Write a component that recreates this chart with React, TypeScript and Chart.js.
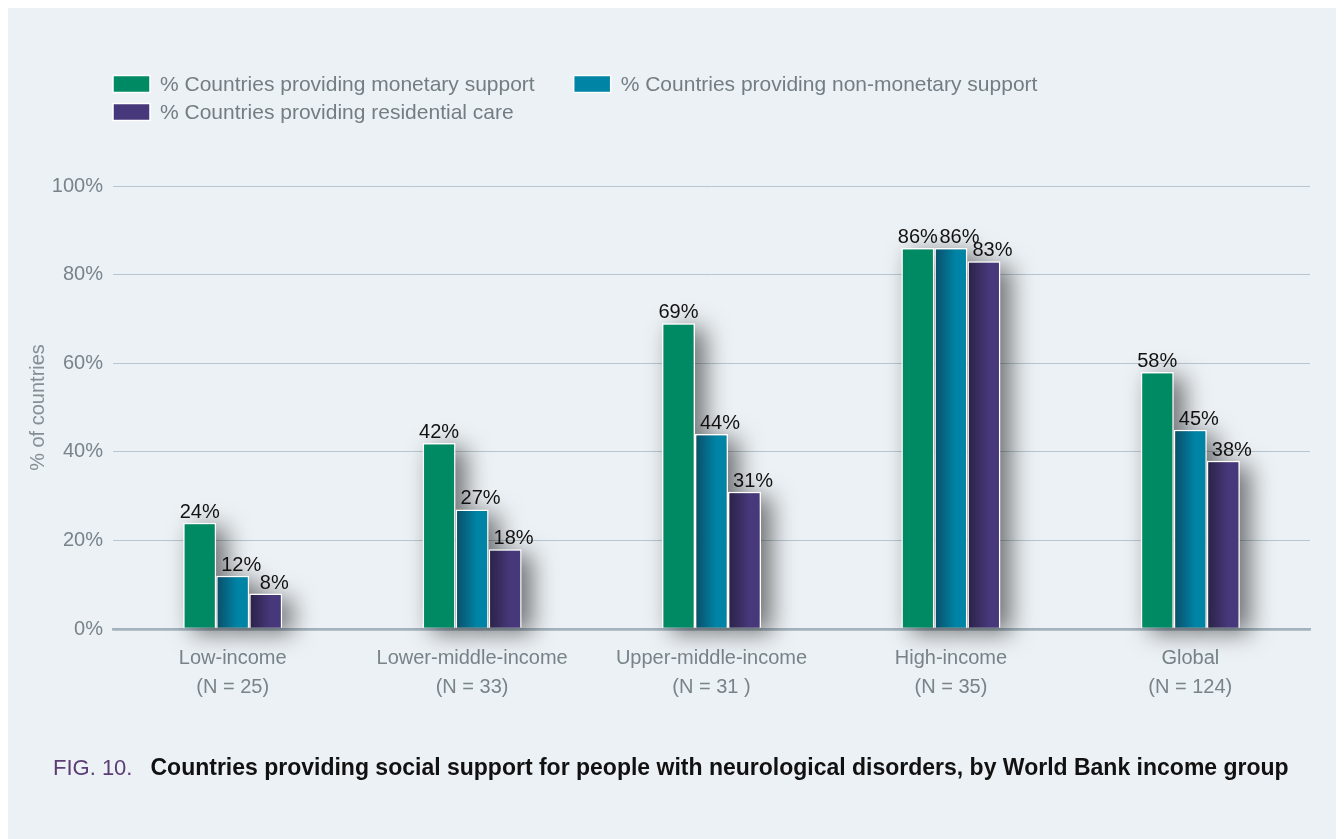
import React, { useEffect, useRef } from 'react';
import { Chart, registerables } from 'chart.js';

Chart.register(...registerables);

// ---- Data ----
const categories: string[][] = [
  ['Low-income', '(N = 25)'],
  ['Lower-middle-income', '(N = 33)'],
  ['Upper-middle-income', '(N = 31 )'],
  ['High-income', '(N = 35)'],
  ['Global', '(N = 124)'],
];
const seriesNames = [
  '% Countries providing monetary support',
  '% Countries providing non-monetary support',
  '% Countries providing residential care',
];
const monetary = [24, 42, 69, 86, 58];
const nonMonetary = [12, 27, 44, 86, 45];
const residential = [8, 18, 31, 83, 38];
const yTicks = [0, 20, 40, 60, 80, 100];
const yAxisTitle = '% of countries';
const figLabel = 'FIG. 10.';
const figTitle = 'Countries providing social support for people with neurological disorders, by World Bank income group';

// ---- Styles ----
const colors = ['#008a64', '#0084a6', '#46387a'];
const darkColors = ['#008a64', '#0a4d67', '#2a2246'];
const SANS = '"Liberation Sans", Arial, sans-serif';
const CAT_PCT = 0.414;
const BG = '#ecf1f5';
const LABEL_SHIFT = [0, 8.5, 8.5];

function gradientFill(di: number) {
  return (c: any) => {
    const chart = c.chart;
    const xs = chart.scales && chart.scales.x;
    if (di === 0 || !xs || c.type !== 'data' || !isFinite(xs.left)) return colors[di];
    const n = categories.length;
    const cw = (xs.right - xs.left) / n;
    const bw = (cw * CAT_PCT) / 3;
    const center = xs.getPixelForValue(c.dataIndex);
    const left = center - 1.5 * bw + di * bw;
    const g = chart.ctx.createLinearGradient(left, 0, left + bw, 0);
    g.addColorStop(0, darkColors[di]);
    g.addColorStop(0.65, colors[di]);
    g.addColorStop(1, colors[di]);
    return g;
  };
}

const decorPlugin = {
  id: 'decor',
  beforeDatasetsDraw(chart: any) {
    const ctx = chart.ctx;
    ctx.save();
    ctx.shadowColor = 'rgba(0,0,0,0.55)';
    ctx.shadowBlur = 24;
    ctx.shadowOffsetX = 10000 + 10;
    ctx.shadowOffsetY = 5;
    ctx.fillStyle = '#000';
    chart.data.datasets.forEach((_ds: any, di: number) => {
      const meta = chart.getDatasetMeta(di);
      meta.data.forEach((bar: any) => {
        const { x, y, base, width } = bar.getProps(['x', 'y', 'base', 'width'], true);
        ctx.fillRect(x - width / 2 - 10000, y, width, base - y);
      });
    });
    ctx.restore();
  },
  afterDatasetsDraw(chart: any) {
    const ctx = chart.ctx;
    ctx.save();
    ctx.fillStyle = '#111';
    ctx.font = `20px ${SANS}`;
    ctx.textAlign = 'center';
    ctx.textBaseline = 'alphabetic';
    chart.data.datasets.forEach((ds: any, di: number) => {
      const meta = chart.getDatasetMeta(di);
      meta.data.forEach((bar: any, i: number) => {
        ctx.fillText(`${ds.data[i]}%`, bar.x + LABEL_SHIFT[di], bar.y - 5);
      });
    });
    ctx.restore();
  },
  afterDraw(chart: any) {
    const ctx = chart.ctx;
    const left = chart.chartArea.left;
    ctx.save();
    // legend
    ctx.font = `21px ${SANS}`;
    ctx.textBaseline = 'middle';
    ctx.textAlign = 'left';
    const boxW = 37;
    const boxH = 17;
    const rows = [76, 104];
    const drawItem = (di: number, x: number, y: number) => {
      ctx.fillStyle = colors[di];
      ctx.fillRect(x, y - boxH / 2, boxW, boxH);
      ctx.strokeStyle = '#ffffff';
      ctx.lineWidth = 1.5;
      ctx.strokeRect(x, y - boxH / 2, boxW, boxH);
      ctx.fillStyle = '#737d83';
      ctx.fillText(seriesNames[di], x + boxW + 10, y + 1);
      return x + boxW + 10 + ctx.measureText(seriesNames[di]).width;
    };
    const end1 = drawItem(0, left, rows[0]);
    drawItem(1, end1 + 39, rows[0]);
    drawItem(2, left, rows[1]);
    // figure caption
    ctx.textBaseline = 'middle';
    ctx.font = `22px ${SANS}`;
    ctx.fillStyle = '#5b3d74';
    ctx.fillText(figLabel, 45, 761);
    const w = ctx.measureText(figLabel).width;
    ctx.font = `bold 23px ${SANS}`;
    ctx.fillStyle = '#111';
    ctx.fillText(figTitle, 45 + w + 18, 761);
    ctx.restore();
  },
};

export default function App() {
  const ref = useRef<HTMLCanvasElement | null>(null);
  useEffect(() => {
    document.documentElement.style.overflow = 'hidden';
    const canvas = ref.current;
    if (!canvas) return;
    const datasets = [monetary, nonMonetary, residential].map((d, di) => ({
      label: seriesNames[di],
      data: d,
      backgroundColor: gradientFill(di),
      borderColor: '#ffffff',
      borderWidth: 1.5,
      categoryPercentage: CAT_PCT,
      barPercentage: 1,
    }));
    const chart = new Chart(canvas, {
      type: 'bar',
      data: { labels: categories as any, datasets },
      plugins: [decorPlugin],
      options: {
        responsive: false,
        animation: false,
        devicePixelRatio: 1,
        layout: { padding: { left: 0, top: 178, right: 34, bottom: 130 } },
        plugins: {
          legend: { display: false },
          tooltip: { enabled: false },
          title: { display: false },
        },
        scales: {
          x: {
            grid: { display: false, drawTicks: false },
            border: { display: true, color: '#a4b3bd', width: 2.5 },
            ticks: {
              color: '#78838a',
              font: { family: SANS, size: 20, lineHeight: 1.45 },
              padding: 15,
              maxRotation: 0,
              autoSkip: false,
            },
            afterFit: (s: any) => {
              s.height = 80;
            },
          },
          y: {
            min: 0,
            max: 100,
            afterBuildTicks: (s: any) => {
              s.ticks = yTicks.map((v) => ({ value: v }));
            },
            grid: {
              drawTicks: false,
              color: (c: any) => (c.tick && c.tick.value === 0 ? '#a4b3bd' : '#b9c6cf'),
              lineWidth: (c: any) => (c.tick && c.tick.value === 0 ? 2.5 : 1),
            },
            border: { display: false },
            ticks: {
              color: '#78838a',
              font: { family: SANS, size: 20 },
              padding: 10,
              callback: (v: any) => `${v}%`,
            },
            title: {
              display: true,
              text: yAxisTitle,
              color: '#858f95',
              font: { family: SANS, size: 20 },
              padding: { top: 18, bottom: 0 },
            },
            afterFit: (s: any) => {
              s.width = 105;
            },
          },
        },
      },
    });
    return () => chart.destroy();
  }, []);
  return (
    <div style={{ width: 1336, height: 831, background: BG }}>
      <canvas ref={ref} width={1336} height={831} style={{ display: 'block' }} />
    </div>
  );
}
